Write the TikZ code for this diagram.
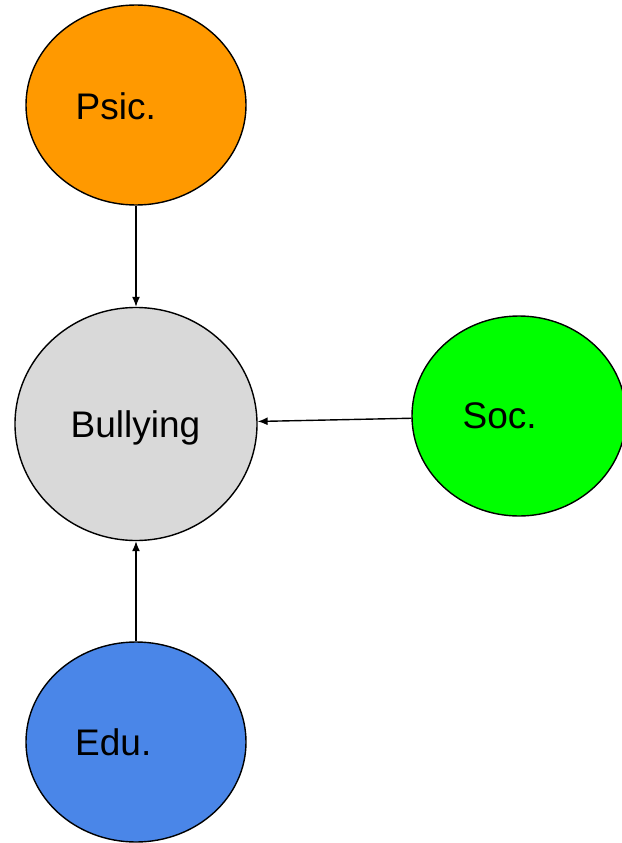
\documentclass[tikz,border=0pt]{standalone}
\usepackage{fontspec}
\setmainfont{Liberation Sans}
\usetikzlibrary{arrows.meta,shapes.geometric}
\definecolor{psicorange}{HTML}{FF9900}
\definecolor{bullygray}{HTML}{D9D9D9}
\definecolor{socgreen}{HTML}{00FF00}
\definecolor{edublue}{HTML}{4A86E8}
\tikzset{>={Latex[length=10pt,width=8pt]}}

\begin{document}
\begin{tikzpicture}[x=1pt,y=-1pt]
        % one unit = one px of the sketch, y runs down
        \tikzstyle{bubble}=[ellipse, draw=black, line width=1.4pt, inner sep=0pt]
        \tikzstyle{tag}=[inner sep=0pt, anchor=base west, font=\fontsize{37}{41}\selectfont]
        \tikzstyle{every edge}=[black, ->, line width=1.4pt, draw]
        \useasboundingbox (0,0) rectangle (621,843);
        \node[bubble, fill=bullygray, minimum width=242pt, minimum height=233pt] (B) at (136,424) {};
        \node[bubble, fill=psicorange, minimum width=220pt, minimum height=200pt] (P) at (136,105) {};
        \node[bubble, fill=socgreen, minimum width=214pt, minimum height=200pt] (S) at (519,416) {};
        \node[bubble, fill=edublue, minimum width=220pt, minimum height=200pt] (E) at (136,742) {};

        \node[tag] (Btag) at (70.5,437) {Bullying};
        \node[tag] (Ptag) at (75.5,119) {Psic.};
        \node[tag] (Stag) at (462.5,428) {Soc.};
        \node[tag] (Etag) at (75,755) {Edu.};

        \draw (P) edge (B);
        \draw (S) edge (B);
        \draw (E) edge (B);
\end{tikzpicture}
\end{document}
